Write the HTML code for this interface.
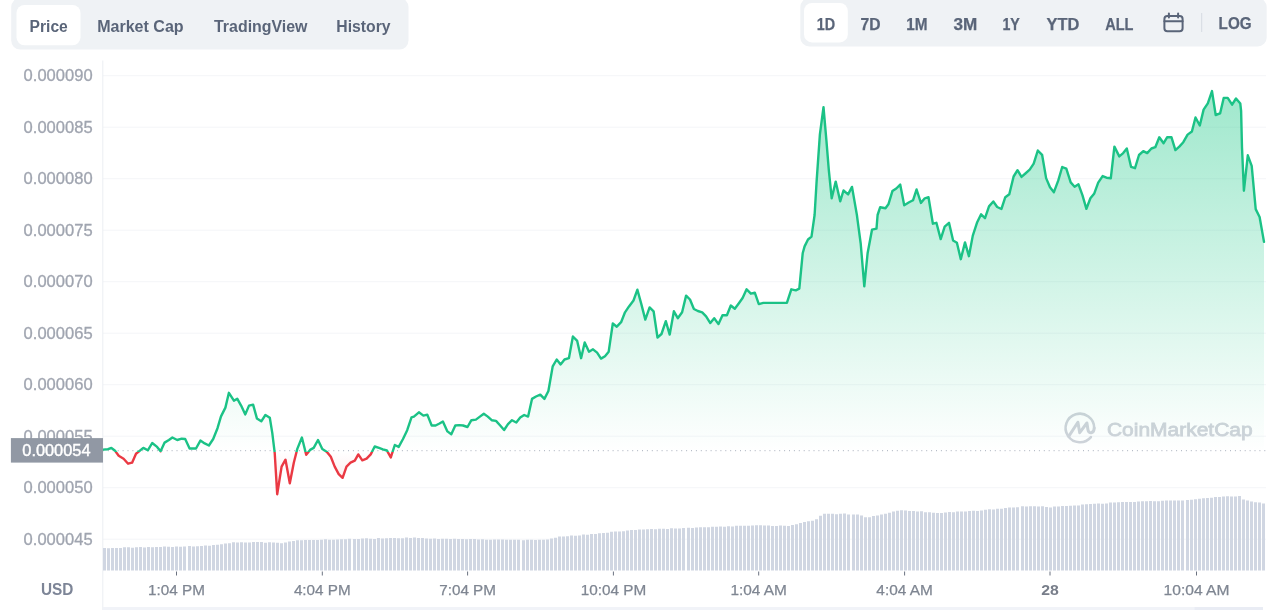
<!DOCTYPE html>
<html lang="en"><head><meta charset="utf-8"><title>Price chart</title>
<style>
html,body{margin:0;padding:0;background:#fff;}
body{width:1279px;height:610px;overflow:hidden;font-family:"Liberation Sans",sans-serif;}
svg{display:block}
text{font-family:"Liberation Sans",sans-serif;}
</style></head><body>
<svg width="1279" height="610" viewBox="0 0 1279 610">
<defs>
<linearGradient id="gfill" x1="0" y1="57" x2="0" y2="452.0" gradientUnits="userSpaceOnUse">
<stop offset="0" stop-color="#16c784" stop-opacity="0.45"/><stop offset="1" stop-color="#16c784" stop-opacity="0"/></linearGradient>
<linearGradient id="rfill" x1="0" y1="452.0" x2="0" y2="575" gradientUnits="userSpaceOnUse">
<stop offset="0" stop-color="#ea3943" stop-opacity="0"/><stop offset="1" stop-color="#ea3943" stop-opacity="0.4"/></linearGradient>
<clipPath id="cup"><rect x="0" y="0" width="1279" height="452.0"/></clipPath>
<clipPath id="cdn"><rect x="0" y="452.0" width="1279" height="200"/></clipPath>
</defs>
<rect width="1279" height="610" fill="#ffffff"/>

<!-- left tabs -->
<rect x="11.2" y="-2" width="397.3" height="51.6" rx="9" fill="#eff2f5"/>
<rect x="16.5" y="5" width="64" height="40.3" rx="8" fill="#ffffff"/>
<g font-size="16" font-weight="700" fill="#5a6579">
<text x="29.6" y="31.6" textLength="38.2" lengthAdjust="spacingAndGlyphs">Price</text>
<text x="97.2" y="31.6" textLength="86.4" lengthAdjust="spacingAndGlyphs">Market Cap</text>
<text x="214" y="31.6" textLength="93.5" lengthAdjust="spacingAndGlyphs">TradingView</text>
<text x="336.3" y="31.6" textLength="54.2" lengthAdjust="spacingAndGlyphs">History</text>
</g>

<!-- right range -->
<rect x="800.3" y="-2" width="466.4" height="48.4" rx="9" fill="#eff2f5"/>
<rect x="804" y="3" width="43.8" height="39.4" rx="8" fill="#ffffff"/>
<g font-size="16.3" font-weight="700" fill="#5a6579" stroke="#5a6579" stroke-width="0.25">
<text x="816.8" y="29.9" textLength="18.4" lengthAdjust="spacingAndGlyphs">1D</text>
<text x="860.6" y="29.9" textLength="20" lengthAdjust="spacingAndGlyphs">7D</text>
<text x="906.3" y="29.9" textLength="21.3" lengthAdjust="spacingAndGlyphs">1M</text>
<text x="953.4" y="29.9" textLength="23.8" lengthAdjust="spacingAndGlyphs">3M</text>
<text x="1002.4" y="29.9" textLength="17.4" lengthAdjust="spacingAndGlyphs">1Y</text>
<text x="1046.5" y="29.9" textLength="32.8" lengthAdjust="spacingAndGlyphs">YTD</text>
<text x="1105.2" y="29.9" textLength="28.3" lengthAdjust="spacingAndGlyphs">ALL</text>
<text x="1218.6" y="28.9" textLength="33" lengthAdjust="spacingAndGlyphs">LOG</text>
</g>
<g fill="none" stroke="#5a6579" stroke-width="2" stroke-linecap="round">
<rect x="1164.4" y="16" width="18.2" height="15.2" rx="3"/>
<line x1="1164.4" y1="21.3" x2="1182.6" y2="21.3"/>
<line x1="1168.9" y1="13.6" x2="1168.9" y2="17.5"/>
<line x1="1178.1" y1="13.6" x2="1178.1" y2="17.5"/>
</g>
<line x1="1201.7" x2="1201.7" y1="13" y2="32" stroke="#d6dae2" stroke-width="1"/>

<!-- grid -->
<g stroke="#f4f5f8" stroke-width="1"><line x1="103" x2="1266" y1="75.7" y2="75.7"/><line x1="103" x2="1266" y1="127.2" y2="127.2"/><line x1="103" x2="1266" y1="178.7" y2="178.7"/><line x1="103" x2="1266" y1="230.2" y2="230.2"/><line x1="103" x2="1266" y1="281.7" y2="281.7"/><line x1="103" x2="1266" y1="333.2" y2="333.2"/><line x1="103" x2="1266" y1="384.7" y2="384.7"/><line x1="103" x2="1266" y1="436.2" y2="436.2"/><line x1="103" x2="1266" y1="487.7" y2="487.7"/><line x1="103" x2="1266" y1="539.2" y2="539.2"/></g>
<line x1="102.8" x2="102.8" y1="60.5" y2="610" stroke="#eceef2" stroke-width="1"/>

<!-- watermark -->
<g fill="none" stroke="#cfd3da" stroke-width="2.6" stroke-linecap="round" stroke-linejoin="round">
<path d="M1090.9 437.1 A14.3 14.3 0 1 1 1094.2 427.9"/>
<path d="M1094.2 427.9 C1094.2 433.5 1088.5 434.5 1087.9 429.5 L1086.9 423 L1079.7 432.7 L1077.9 422.3 L1068.7 436.4" stroke-width="3"/>
</g>
<text x="1106.9" y="435.7" font-size="19" fill="#cfd3da" stroke="#cfd3da" stroke-width="0.8" textLength="145.8" lengthAdjust="spacingAndGlyphs">CoinMarketCap</text>

<!-- volume -->
<path d="M103 548.0h3V570.5h-3zM107 548.2h3V570.5h-3zM111 547.9h3V570.5h-3zM115 548.0h3V570.5h-3zM119 547.9h3V570.5h-3zM123 547.3h3V570.5h-3zM127 547.2h3V570.5h-3zM131 547.7h3V570.5h-3zM135 547.2h3V570.5h-3zM139 547.1h3V570.5h-3zM143 547.6h3V570.5h-3zM147 547.1h3V570.5h-3zM151 547.3h3V570.5h-3zM155 546.9h3V570.5h-3zM159 547.0h3V570.5h-3zM163 546.5h3V570.5h-3zM167 546.8h3V570.5h-3zM171 546.9h3V570.5h-3zM175 546.6h3V570.5h-3zM179 546.7h3V570.5h-3zM183 546.6h3V570.5h-3zM188 546.0h3V570.5h-3zM192 546.4h3V570.5h-3zM196 546.2h3V570.5h-3zM200 545.9h3V570.5h-3zM204 545.6h3V570.5h-3zM208 545.8h3V570.5h-3zM212 545.0h3V570.5h-3zM216 544.7h3V570.5h-3zM220 544.3h3V570.5h-3zM224 543.6h3V570.5h-3zM228 543.2h3V570.5h-3zM232 542.3h3V570.5h-3zM236 542.5h3V570.5h-3zM240 542.3h3V570.5h-3zM244 542.6h3V570.5h-3zM248 542.6h3V570.5h-3zM252 542.0h3V570.5h-3zM256 542.0h3V570.5h-3zM260 542.1h3V570.5h-3zM264 542.7h3V570.5h-3zM268 542.2h3V570.5h-3zM272 542.4h3V570.5h-3zM276 542.8h3V570.5h-3zM280 543.3h3V570.5h-3zM284 542.4h3V570.5h-3zM288 541.6h3V570.5h-3zM292 541.0h3V570.5h-3zM296 540.2h3V570.5h-3zM300 540.3h3V570.5h-3zM304 540.0h3V570.5h-3zM308 540.1h3V570.5h-3zM312 540.0h3V570.5h-3zM316 540.0h3V570.5h-3zM320 539.7h3V570.5h-3zM324 539.2h3V570.5h-3zM328 539.7h3V570.5h-3zM332 539.7h3V570.5h-3zM336 539.5h3V570.5h-3zM340 539.2h3V570.5h-3zM344 539.2h3V570.5h-3zM348 538.7h3V570.5h-3zM353 539.1h3V570.5h-3zM357 538.9h3V570.5h-3zM361 538.5h3V570.5h-3zM365 538.3h3V570.5h-3zM369 538.8h3V570.5h-3zM373 538.9h3V570.5h-3zM377 538.1h3V570.5h-3zM381 538.6h3V570.5h-3zM385 538.2h3V570.5h-3zM389 537.9h3V570.5h-3zM393 537.9h3V570.5h-3zM397 538.2h3V570.5h-3zM401 538.2h3V570.5h-3zM405 537.5h3V570.5h-3zM409 537.9h3V570.5h-3zM413 537.4h3V570.5h-3zM417 538.1h3V570.5h-3zM421 537.9h3V570.5h-3zM425 538.5h3V570.5h-3zM429 538.8h3V570.5h-3zM433 538.5h3V570.5h-3zM437 539.1h3V570.5h-3zM441 538.7h3V570.5h-3zM445 538.7h3V570.5h-3zM449 539.1h3V570.5h-3zM453 538.7h3V570.5h-3zM457 538.9h3V570.5h-3zM461 539.1h3V570.5h-3zM465 539.3h3V570.5h-3zM469 539.0h3V570.5h-3zM473 538.9h3V570.5h-3zM477 539.6h3V570.5h-3zM481 539.2h3V570.5h-3zM485 539.8h3V570.5h-3zM489 539.8h3V570.5h-3zM493 539.4h3V570.5h-3zM497 539.5h3V570.5h-3zM501 539.6h3V570.5h-3zM505 539.7h3V570.5h-3zM509 539.7h3V570.5h-3zM513 539.8h3V570.5h-3zM517 539.8h3V570.5h-3zM522 540.2h3V570.5h-3zM526 539.8h3V570.5h-3zM530 539.8h3V570.5h-3zM534 540.1h3V570.5h-3zM538 539.8h3V570.5h-3zM542 539.7h3V570.5h-3zM546 539.6h3V570.5h-3zM550 538.5h3V570.5h-3zM554 537.7h3V570.5h-3zM558 536.6h3V570.5h-3zM562 536.4h3V570.5h-3zM566 536.3h3V570.5h-3zM570 535.5h3V570.5h-3zM574 535.7h3V570.5h-3zM578 535.4h3V570.5h-3zM582 534.6h3V570.5h-3zM586 534.7h3V570.5h-3zM590 534.1h3V570.5h-3zM594 533.9h3V570.5h-3zM598 533.2h3V570.5h-3zM602 533.1h3V570.5h-3zM606 532.7h3V570.5h-3zM610 531.8h3V570.5h-3zM614 531.4h3V570.5h-3zM618 531.5h3V570.5h-3zM622 531.3h3V570.5h-3zM626 530.4h3V570.5h-3zM630 530.1h3V570.5h-3zM634 529.9h3V570.5h-3zM638 529.5h3V570.5h-3zM642 529.4h3V570.5h-3zM646 529.2h3V570.5h-3zM650 529.1h3V570.5h-3zM654 529.2h3V570.5h-3zM658 528.8h3V570.5h-3zM662 528.7h3V570.5h-3zM666 528.9h3V570.5h-3zM670 528.2h3V570.5h-3zM674 528.5h3V570.5h-3zM678 528.5h3V570.5h-3zM682 528.0h3V570.5h-3zM687 527.8h3V570.5h-3zM691 528.1h3V570.5h-3zM695 527.4h3V570.5h-3zM699 527.2h3V570.5h-3zM703 527.3h3V570.5h-3zM707 527.3h3V570.5h-3zM711 526.7h3V570.5h-3zM715 526.7h3V570.5h-3zM719 526.5h3V570.5h-3zM723 526.7h3V570.5h-3zM727 526.3h3V570.5h-3zM731 526.4h3V570.5h-3zM735 525.7h3V570.5h-3zM739 525.7h3V570.5h-3zM743 525.8h3V570.5h-3zM747 525.8h3V570.5h-3zM751 525.4h3V570.5h-3zM755 525.3h3V570.5h-3zM759 525.2h3V570.5h-3zM763 525.6h3V570.5h-3zM767 525.4h3V570.5h-3zM771 525.9h3V570.5h-3zM775 526.0h3V570.5h-3zM779 525.5h3V570.5h-3zM783 525.7h3V570.5h-3zM787 526.0h3V570.5h-3zM791 525.0h3V570.5h-3zM795 524.3h3V570.5h-3zM799 523.1h3V570.5h-3zM803 522.0h3V570.5h-3zM807 521.3h3V570.5h-3zM811 520.8h3V570.5h-3zM815 519.2h3V570.5h-3zM819 515.8h3V570.5h-3zM823 513.7h3V570.5h-3zM827 513.7h3V570.5h-3zM831 513.8h3V570.5h-3zM835 514.2h3V570.5h-3zM839 513.7h3V570.5h-3zM843 513.6h3V570.5h-3zM847 514.4h3V570.5h-3zM852 514.4h3V570.5h-3zM856 514.6h3V570.5h-3zM860 515.4h3V570.5h-3zM864 517.3h3V570.5h-3zM868 517.3h3V570.5h-3zM872 515.9h3V570.5h-3zM876 515.4h3V570.5h-3zM880 514.6h3V570.5h-3zM884 513.7h3V570.5h-3zM888 512.7h3V570.5h-3zM892 511.6h3V570.5h-3zM896 510.8h3V570.5h-3zM900 510.3h3V570.5h-3zM904 510.4h3V570.5h-3zM908 511.0h3V570.5h-3zM912 511.0h3V570.5h-3zM916 511.6h3V570.5h-3zM920 511.3h3V570.5h-3zM924 512.2h3V570.5h-3zM928 512.2h3V570.5h-3zM932 512.7h3V570.5h-3zM936 512.9h3V570.5h-3zM940 513.1h3V570.5h-3zM944 512.6h3V570.5h-3zM948 511.9h3V570.5h-3zM952 512.3h3V570.5h-3zM956 511.6h3V570.5h-3zM960 511.4h3V570.5h-3zM964 511.4h3V570.5h-3zM968 511.1h3V570.5h-3zM972 510.7h3V570.5h-3zM976 510.9h3V570.5h-3zM980 510.4h3V570.5h-3zM984 509.8h3V570.5h-3zM988 509.3h3V570.5h-3zM992 509.5h3V570.5h-3zM996 508.8h3V570.5h-3zM1000 508.7h3V570.5h-3zM1004 508.0h3V570.5h-3zM1008 507.5h3V570.5h-3zM1012 507.4h3V570.5h-3zM1016 507.3h3V570.5h-3zM1021 506.3h3V570.5h-3zM1025 506.4h3V570.5h-3zM1029 506.2h3V570.5h-3zM1033 506.3h3V570.5h-3zM1037 506.6h3V570.5h-3zM1041 506.3h3V570.5h-3zM1045 507.0h3V570.5h-3zM1049 507.5h3V570.5h-3zM1053 506.5h3V570.5h-3zM1057 506.4h3V570.5h-3zM1061 506.1h3V570.5h-3zM1065 506.0h3V570.5h-3zM1069 505.7h3V570.5h-3zM1073 505.4h3V570.5h-3zM1077 505.4h3V570.5h-3zM1081 504.5h3V570.5h-3zM1085 504.2h3V570.5h-3zM1089 504.0h3V570.5h-3zM1093 503.7h3V570.5h-3zM1097 503.4h3V570.5h-3zM1101 503.8h3V570.5h-3zM1105 503.4h3V570.5h-3zM1109 502.5h3V570.5h-3zM1113 502.6h3V570.5h-3zM1117 502.3h3V570.5h-3zM1121 502.1h3V570.5h-3zM1125 502.0h3V570.5h-3zM1129 502.1h3V570.5h-3zM1133 501.9h3V570.5h-3zM1137 501.6h3V570.5h-3zM1141 501.3h3V570.5h-3zM1145 501.3h3V570.5h-3zM1149 501.0h3V570.5h-3zM1153 501.2h3V570.5h-3zM1157 501.2h3V570.5h-3zM1161 500.8h3V570.5h-3zM1165 500.4h3V570.5h-3zM1169 500.4h3V570.5h-3zM1173 500.4h3V570.5h-3zM1177 500.4h3V570.5h-3zM1181 500.4h3V570.5h-3zM1186 499.9h3V570.5h-3zM1190 499.8h3V570.5h-3zM1194 499.2h3V570.5h-3zM1198 498.7h3V570.5h-3zM1202 498.2h3V570.5h-3zM1206 497.9h3V570.5h-3zM1210 497.7h3V570.5h-3zM1214 497.1h3V570.5h-3zM1218 496.9h3V570.5h-3zM1222 496.4h3V570.5h-3zM1226 496.2h3V570.5h-3zM1230 496.4h3V570.5h-3zM1234 496.6h3V570.5h-3zM1238 496.1h3V570.5h-3zM1242 499.6h3V570.5h-3zM1246 500.6h3V570.5h-3zM1250 501.6h3V570.5h-3zM1254 502.2h3V570.5h-3zM1258 502.4h3V570.5h-3zM1262 503.4h3V570.5h-3z" fill="#d0d6e2"/>

<!-- area -->
<path d="M103.0 449.6 L107.9 449.2 L111.4 448.0 L114.8 450.4 L118.7 455.8 L123.6 458.7 L128.1 463.7 L132.1 462.7 L136.0 453.8 L143.3 447.9 L147.8 450.3 L152.2 443.0 L157.1 446.9 L160.6 451.3 L164.6 442.6 L168.9 440.0 L172.4 437.5 L177.2 440.0 L181.7 438.7 L185.2 439.0 L189.6 448.5 L196.0 448.5 L200.4 440.6 L204.7 443.4 L208.9 445.5 L213.2 439.0 L217.5 428.2 L221.0 416.4 L225.4 407.6 L228.9 392.8 L233.9 400.7 L237.2 398.7 L241.1 405.6 L245.3 414.4 L249.0 405.6 L253.1 404.6 L256.9 418.4 L261.3 421.3 L265.4 415.0 L269.8 417.8 L272.3 433.1 L274.7 452.8 L277.2 494.2 L281.6 466.6 L285.5 459.7 L289.8 483.3 L293.8 462.7 L297.3 448.9 L301.9 437.5 L306.2 454.8 L310.1 449.9 L313.7 447.9 L318.0 440.0 L322.3 448.9 L326.9 451.9 L330.8 456.8 L334.7 466.6 L338.7 474.1 L342.6 477.8 L346.5 466.6 L350.5 462.7 L354.8 460.7 L358.3 454.4 L362.3 460.3 L366.6 458.7 L370.7 454.4 L374.7 446.5 L379.0 447.9 L382.9 449.3 L386.9 450.5 L390.8 457.4 L394.8 445.0 L398.7 446.9 L403.0 439.0 L407.2 430.2 L411.5 417.4 L413.9 416.6 L418.9 412.3 L423.4 415.6 L427.3 414.6 L431.7 425.5 L435.6 425.5 L439.5 423.5 L442.9 421.5 L447.4 431.4 L451.3 434.3 L455.3 425.5 L459.2 425.1 L463.1 425.5 L467.5 427.0 L471.4 420.2 L475.9 419.6 L479.9 416.6 L483.8 413.7 L487.8 416.6 L491.7 420.2 L496.0 420.9 L500.2 425.5 L504.1 430.0 L508.0 424.1 L512.0 420.2 L516.3 422.5 L520.2 417.6 L524.2 415.0 L528.1 416.6 L532.0 398.9 L536.0 396.5 L540.3 394.6 L544.4 398.9 L548.4 391.0 L552.7 366.4 L556.7 359.5 L560.6 364.4 L564.5 359.5 L568.9 358.2 L572.9 336.5 L577.2 340.9 L581.1 358.2 L584.7 342.4 L589.0 351.7 L593.0 349.3 L597.1 352.7 L601.0 358.6 L605.0 356.2 L608.7 351.7 L612.8 323.5 L616.8 326.7 L621.1 322.2 L625.0 312.3 L629.0 306.4 L633.5 300.5 L637.4 289.7 L641.4 304.4 L645.3 319.6 L649.6 307.4 L653.6 311.3 L657.5 337.5 L661.5 334.0 L665.8 321.2 L669.7 334.6 L673.9 311.3 L677.8 318.2 L682.1 312.3 L686.1 295.6 L690.0 299.5 L693.9 309.0 L697.9 311.0 L702.2 312.3 L706.1 316.3 L710.3 323.1 L714.2 318.2 L718.5 324.1 L722.5 315.3 L726.9 315.3 L730.8 305.5 L734.8 308.8 L738.7 303.5 L742.6 298.0 L746.6 289.3 L750.9 293.7 L754.8 292.7 L758.8 304.1 L763.3 302.9 L786.9 302.9 L791.3 289.3 L795.8 290.3 L799.3 288.7 L802.7 253.3 L804.6 246.4 L808.0 239.5 L811.5 236.6 L814.6 215.0 L816.6 181.6 L819.9 134.4 L823.5 107.2 L826.4 140.3 L828.8 169.8 L831.7 198.3 L835.7 181.6 L840.2 201.3 L843.5 190.5 L848.1 194.4 L852.0 186.9 L856.9 215.0 L857.8 221.8 L860.7 243.5 L864.3 286.4 L867.6 253.3 L872.0 229.7 L876.5 228.7 L877.6 215.0 L880.2 207.2 L885.5 208.2 L888.4 204.3 L892.4 191.1 L896.3 188.5 L900.2 184.6 L904.2 205.2 L909.1 202.3 L913.0 200.3 L916.6 189.5 L920.9 202.9 L924.8 198.3 L928.5 197.2 L932.9 223.7 L936.4 222.8 L940.7 239.1 L944.7 226.7 L949.0 222.8 L953.1 240.5 L956.9 242.8 L960.8 259.2 L965.0 242.4 L968.9 256.2 L972.8 235.6 L977.2 222.2 L981.1 214.3 L985.0 218.2 L989.0 206.4 L993.3 201.5 L997.2 207.0 L1001.4 209.0 L1005.3 197.2 L1009.3 194.2 L1013.6 176.5 L1017.5 170.2 L1021.5 176.9 L1025.4 173.5 L1029.7 169.6 L1033.7 163.7 L1037.8 150.5 L1042.1 154.8 L1046.1 178.1 L1050.0 187.3 L1053.9 192.2 L1058.3 180.4 L1062.2 167.0 L1066.3 168.6 L1070.7 182.4 L1074.6 186.7 L1078.5 184.3 L1082.5 195.4 L1086.4 208.8 L1090.4 198.3 L1094.3 193.4 L1098.2 182.6 L1102.6 176.1 L1106.5 177.7 L1110.8 178.3 L1114.4 146.6 L1119.3 156.4 L1123.2 153.1 L1126.8 148.5 L1131.1 166.9 L1135.0 168.2 L1139.0 155.0 L1143.3 151.1 L1147.2 153.1 L1151.4 148.5 L1155.3 147.2 L1159.3 137.3 L1163.6 143.2 L1167.1 137.3 L1171.5 137.3 L1175.4 150.1 L1179.3 146.6 L1183.3 142.2 L1187.6 134.6 L1191.9 131.5 L1195.5 117.5 L1199.8 125.5 L1203.6 109.6 L1207.8 103.3 L1212.0 91.1 L1215.7 115.0 L1220.1 113.4 L1223.7 97.9 L1227.7 97.9 L1232.1 104.7 L1236.0 98.5 L1240.3 103.6 L1241.1 110.8 L1242.0 147.5 L1243.9 190.7 L1247.8 155.3 L1251.7 165.8 L1255.7 209.1 L1259.6 217.0 L1264.0 241.9 L1264.0 452.0 L103.0 452.0 Z" fill="url(#gfill)" clip-path="url(#cup)"/>
<path d="M103.0 449.6 L107.9 449.2 L111.4 448.0 L114.8 450.4 L118.7 455.8 L123.6 458.7 L128.1 463.7 L132.1 462.7 L136.0 453.8 L143.3 447.9 L147.8 450.3 L152.2 443.0 L157.1 446.9 L160.6 451.3 L164.6 442.6 L168.9 440.0 L172.4 437.5 L177.2 440.0 L181.7 438.7 L185.2 439.0 L189.6 448.5 L196.0 448.5 L200.4 440.6 L204.7 443.4 L208.9 445.5 L213.2 439.0 L217.5 428.2 L221.0 416.4 L225.4 407.6 L228.9 392.8 L233.9 400.7 L237.2 398.7 L241.1 405.6 L245.3 414.4 L249.0 405.6 L253.1 404.6 L256.9 418.4 L261.3 421.3 L265.4 415.0 L269.8 417.8 L272.3 433.1 L274.7 452.8 L277.2 494.2 L281.6 466.6 L285.5 459.7 L289.8 483.3 L293.8 462.7 L297.3 448.9 L301.9 437.5 L306.2 454.8 L310.1 449.9 L313.7 447.9 L318.0 440.0 L322.3 448.9 L326.9 451.9 L330.8 456.8 L334.7 466.6 L338.7 474.1 L342.6 477.8 L346.5 466.6 L350.5 462.7 L354.8 460.7 L358.3 454.4 L362.3 460.3 L366.6 458.7 L370.7 454.4 L374.7 446.5 L379.0 447.9 L382.9 449.3 L386.9 450.5 L390.8 457.4 L394.8 445.0 L398.7 446.9 L403.0 439.0 L407.2 430.2 L411.5 417.4 L413.9 416.6 L418.9 412.3 L423.4 415.6 L427.3 414.6 L431.7 425.5 L435.6 425.5 L439.5 423.5 L442.9 421.5 L447.4 431.4 L451.3 434.3 L455.3 425.5 L459.2 425.1 L463.1 425.5 L467.5 427.0 L471.4 420.2 L475.9 419.6 L479.9 416.6 L483.8 413.7 L487.8 416.6 L491.7 420.2 L496.0 420.9 L500.2 425.5 L504.1 430.0 L508.0 424.1 L512.0 420.2 L516.3 422.5 L520.2 417.6 L524.2 415.0 L528.1 416.6 L532.0 398.9 L536.0 396.5 L540.3 394.6 L544.4 398.9 L548.4 391.0 L552.7 366.4 L556.7 359.5 L560.6 364.4 L564.5 359.5 L568.9 358.2 L572.9 336.5 L577.2 340.9 L581.1 358.2 L584.7 342.4 L589.0 351.7 L593.0 349.3 L597.1 352.7 L601.0 358.6 L605.0 356.2 L608.7 351.7 L612.8 323.5 L616.8 326.7 L621.1 322.2 L625.0 312.3 L629.0 306.4 L633.5 300.5 L637.4 289.7 L641.4 304.4 L645.3 319.6 L649.6 307.4 L653.6 311.3 L657.5 337.5 L661.5 334.0 L665.8 321.2 L669.7 334.6 L673.9 311.3 L677.8 318.2 L682.1 312.3 L686.1 295.6 L690.0 299.5 L693.9 309.0 L697.9 311.0 L702.2 312.3 L706.1 316.3 L710.3 323.1 L714.2 318.2 L718.5 324.1 L722.5 315.3 L726.9 315.3 L730.8 305.5 L734.8 308.8 L738.7 303.5 L742.6 298.0 L746.6 289.3 L750.9 293.7 L754.8 292.7 L758.8 304.1 L763.3 302.9 L786.9 302.9 L791.3 289.3 L795.8 290.3 L799.3 288.7 L802.7 253.3 L804.6 246.4 L808.0 239.5 L811.5 236.6 L814.6 215.0 L816.6 181.6 L819.9 134.4 L823.5 107.2 L826.4 140.3 L828.8 169.8 L831.7 198.3 L835.7 181.6 L840.2 201.3 L843.5 190.5 L848.1 194.4 L852.0 186.9 L856.9 215.0 L857.8 221.8 L860.7 243.5 L864.3 286.4 L867.6 253.3 L872.0 229.7 L876.5 228.7 L877.6 215.0 L880.2 207.2 L885.5 208.2 L888.4 204.3 L892.4 191.1 L896.3 188.5 L900.2 184.6 L904.2 205.2 L909.1 202.3 L913.0 200.3 L916.6 189.5 L920.9 202.9 L924.8 198.3 L928.5 197.2 L932.9 223.7 L936.4 222.8 L940.7 239.1 L944.7 226.7 L949.0 222.8 L953.1 240.5 L956.9 242.8 L960.8 259.2 L965.0 242.4 L968.9 256.2 L972.8 235.6 L977.2 222.2 L981.1 214.3 L985.0 218.2 L989.0 206.4 L993.3 201.5 L997.2 207.0 L1001.4 209.0 L1005.3 197.2 L1009.3 194.2 L1013.6 176.5 L1017.5 170.2 L1021.5 176.9 L1025.4 173.5 L1029.7 169.6 L1033.7 163.7 L1037.8 150.5 L1042.1 154.8 L1046.1 178.1 L1050.0 187.3 L1053.9 192.2 L1058.3 180.4 L1062.2 167.0 L1066.3 168.6 L1070.7 182.4 L1074.6 186.7 L1078.5 184.3 L1082.5 195.4 L1086.4 208.8 L1090.4 198.3 L1094.3 193.4 L1098.2 182.6 L1102.6 176.1 L1106.5 177.7 L1110.8 178.3 L1114.4 146.6 L1119.3 156.4 L1123.2 153.1 L1126.8 148.5 L1131.1 166.9 L1135.0 168.2 L1139.0 155.0 L1143.3 151.1 L1147.2 153.1 L1151.4 148.5 L1155.3 147.2 L1159.3 137.3 L1163.6 143.2 L1167.1 137.3 L1171.5 137.3 L1175.4 150.1 L1179.3 146.6 L1183.3 142.2 L1187.6 134.6 L1191.9 131.5 L1195.5 117.5 L1199.8 125.5 L1203.6 109.6 L1207.8 103.3 L1212.0 91.1 L1215.7 115.0 L1220.1 113.4 L1223.7 97.9 L1227.7 97.9 L1232.1 104.7 L1236.0 98.5 L1240.3 103.6 L1241.1 110.8 L1242.0 147.5 L1243.9 190.7 L1247.8 155.3 L1251.7 165.8 L1255.7 209.1 L1259.6 217.0 L1264.0 241.9 L1264.0 452.0 L103.0 452.0 Z" fill="url(#rfill)" clip-path="url(#cdn)"/>
<line x1="103" x2="1267" y1="450.7" y2="450.7" stroke="#a6adba" stroke-width="1" stroke-dasharray="1 3.9"/>
<path d="M103.0 449.6 L107.9 449.2 L111.4 448.0 L114.8 450.4 L118.7 455.8 L123.6 458.7 L128.1 463.7 L132.1 462.7 L136.0 453.8 L143.3 447.9 L147.8 450.3 L152.2 443.0 L157.1 446.9 L160.6 451.3 L164.6 442.6 L168.9 440.0 L172.4 437.5 L177.2 440.0 L181.7 438.7 L185.2 439.0 L189.6 448.5 L196.0 448.5 L200.4 440.6 L204.7 443.4 L208.9 445.5 L213.2 439.0 L217.5 428.2 L221.0 416.4 L225.4 407.6 L228.9 392.8 L233.9 400.7 L237.2 398.7 L241.1 405.6 L245.3 414.4 L249.0 405.6 L253.1 404.6 L256.9 418.4 L261.3 421.3 L265.4 415.0 L269.8 417.8 L272.3 433.1 L274.7 452.8 L277.2 494.2 L281.6 466.6 L285.5 459.7 L289.8 483.3 L293.8 462.7 L297.3 448.9 L301.9 437.5 L306.2 454.8 L310.1 449.9 L313.7 447.9 L318.0 440.0 L322.3 448.9 L326.9 451.9 L330.8 456.8 L334.7 466.6 L338.7 474.1 L342.6 477.8 L346.5 466.6 L350.5 462.7 L354.8 460.7 L358.3 454.4 L362.3 460.3 L366.6 458.7 L370.7 454.4 L374.7 446.5 L379.0 447.9 L382.9 449.3 L386.9 450.5 L390.8 457.4 L394.8 445.0 L398.7 446.9 L403.0 439.0 L407.2 430.2 L411.5 417.4 L413.9 416.6 L418.9 412.3 L423.4 415.6 L427.3 414.6 L431.7 425.5 L435.6 425.5 L439.5 423.5 L442.9 421.5 L447.4 431.4 L451.3 434.3 L455.3 425.5 L459.2 425.1 L463.1 425.5 L467.5 427.0 L471.4 420.2 L475.9 419.6 L479.9 416.6 L483.8 413.7 L487.8 416.6 L491.7 420.2 L496.0 420.9 L500.2 425.5 L504.1 430.0 L508.0 424.1 L512.0 420.2 L516.3 422.5 L520.2 417.6 L524.2 415.0 L528.1 416.6 L532.0 398.9 L536.0 396.5 L540.3 394.6 L544.4 398.9 L548.4 391.0 L552.7 366.4 L556.7 359.5 L560.6 364.4 L564.5 359.5 L568.9 358.2 L572.9 336.5 L577.2 340.9 L581.1 358.2 L584.7 342.4 L589.0 351.7 L593.0 349.3 L597.1 352.7 L601.0 358.6 L605.0 356.2 L608.7 351.7 L612.8 323.5 L616.8 326.7 L621.1 322.2 L625.0 312.3 L629.0 306.4 L633.5 300.5 L637.4 289.7 L641.4 304.4 L645.3 319.6 L649.6 307.4 L653.6 311.3 L657.5 337.5 L661.5 334.0 L665.8 321.2 L669.7 334.6 L673.9 311.3 L677.8 318.2 L682.1 312.3 L686.1 295.6 L690.0 299.5 L693.9 309.0 L697.9 311.0 L702.2 312.3 L706.1 316.3 L710.3 323.1 L714.2 318.2 L718.5 324.1 L722.5 315.3 L726.9 315.3 L730.8 305.5 L734.8 308.8 L738.7 303.5 L742.6 298.0 L746.6 289.3 L750.9 293.7 L754.8 292.7 L758.8 304.1 L763.3 302.9 L786.9 302.9 L791.3 289.3 L795.8 290.3 L799.3 288.7 L802.7 253.3 L804.6 246.4 L808.0 239.5 L811.5 236.6 L814.6 215.0 L816.6 181.6 L819.9 134.4 L823.5 107.2 L826.4 140.3 L828.8 169.8 L831.7 198.3 L835.7 181.6 L840.2 201.3 L843.5 190.5 L848.1 194.4 L852.0 186.9 L856.9 215.0 L857.8 221.8 L860.7 243.5 L864.3 286.4 L867.6 253.3 L872.0 229.7 L876.5 228.7 L877.6 215.0 L880.2 207.2 L885.5 208.2 L888.4 204.3 L892.4 191.1 L896.3 188.5 L900.2 184.6 L904.2 205.2 L909.1 202.3 L913.0 200.3 L916.6 189.5 L920.9 202.9 L924.8 198.3 L928.5 197.2 L932.9 223.7 L936.4 222.8 L940.7 239.1 L944.7 226.7 L949.0 222.8 L953.1 240.5 L956.9 242.8 L960.8 259.2 L965.0 242.4 L968.9 256.2 L972.8 235.6 L977.2 222.2 L981.1 214.3 L985.0 218.2 L989.0 206.4 L993.3 201.5 L997.2 207.0 L1001.4 209.0 L1005.3 197.2 L1009.3 194.2 L1013.6 176.5 L1017.5 170.2 L1021.5 176.9 L1025.4 173.5 L1029.7 169.6 L1033.7 163.7 L1037.8 150.5 L1042.1 154.8 L1046.1 178.1 L1050.0 187.3 L1053.9 192.2 L1058.3 180.4 L1062.2 167.0 L1066.3 168.6 L1070.7 182.4 L1074.6 186.7 L1078.5 184.3 L1082.5 195.4 L1086.4 208.8 L1090.4 198.3 L1094.3 193.4 L1098.2 182.6 L1102.6 176.1 L1106.5 177.7 L1110.8 178.3 L1114.4 146.6 L1119.3 156.4 L1123.2 153.1 L1126.8 148.5 L1131.1 166.9 L1135.0 168.2 L1139.0 155.0 L1143.3 151.1 L1147.2 153.1 L1151.4 148.5 L1155.3 147.2 L1159.3 137.3 L1163.6 143.2 L1167.1 137.3 L1171.5 137.3 L1175.4 150.1 L1179.3 146.6 L1183.3 142.2 L1187.6 134.6 L1191.9 131.5 L1195.5 117.5 L1199.8 125.5 L1203.6 109.6 L1207.8 103.3 L1212.0 91.1 L1215.7 115.0 L1220.1 113.4 L1223.7 97.9 L1227.7 97.9 L1232.1 104.7 L1236.0 98.5 L1240.3 103.6 L1241.1 110.8 L1242.0 147.5 L1243.9 190.7 L1247.8 155.3 L1251.7 165.8 L1255.7 209.1 L1259.6 217.0 L1264.0 241.9" fill="none" stroke="#1bc286" stroke-width="2.4" stroke-linejoin="round" stroke-linecap="round" clip-path="url(#cup)"/>
<path d="M103.0 449.6 L107.9 449.2 L111.4 448.0 L114.8 450.4 L118.7 455.8 L123.6 458.7 L128.1 463.7 L132.1 462.7 L136.0 453.8 L143.3 447.9 L147.8 450.3 L152.2 443.0 L157.1 446.9 L160.6 451.3 L164.6 442.6 L168.9 440.0 L172.4 437.5 L177.2 440.0 L181.7 438.7 L185.2 439.0 L189.6 448.5 L196.0 448.5 L200.4 440.6 L204.7 443.4 L208.9 445.5 L213.2 439.0 L217.5 428.2 L221.0 416.4 L225.4 407.6 L228.9 392.8 L233.9 400.7 L237.2 398.7 L241.1 405.6 L245.3 414.4 L249.0 405.6 L253.1 404.6 L256.9 418.4 L261.3 421.3 L265.4 415.0 L269.8 417.8 L272.3 433.1 L274.7 452.8 L277.2 494.2 L281.6 466.6 L285.5 459.7 L289.8 483.3 L293.8 462.7 L297.3 448.9 L301.9 437.5 L306.2 454.8 L310.1 449.9 L313.7 447.9 L318.0 440.0 L322.3 448.9 L326.9 451.9 L330.8 456.8 L334.7 466.6 L338.7 474.1 L342.6 477.8 L346.5 466.6 L350.5 462.7 L354.8 460.7 L358.3 454.4 L362.3 460.3 L366.6 458.7 L370.7 454.4 L374.7 446.5 L379.0 447.9 L382.9 449.3 L386.9 450.5 L390.8 457.4 L394.8 445.0 L398.7 446.9 L403.0 439.0 L407.2 430.2 L411.5 417.4 L413.9 416.6 L418.9 412.3 L423.4 415.6 L427.3 414.6 L431.7 425.5 L435.6 425.5 L439.5 423.5 L442.9 421.5 L447.4 431.4 L451.3 434.3 L455.3 425.5 L459.2 425.1 L463.1 425.5 L467.5 427.0 L471.4 420.2 L475.9 419.6 L479.9 416.6 L483.8 413.7 L487.8 416.6 L491.7 420.2 L496.0 420.9 L500.2 425.5 L504.1 430.0 L508.0 424.1 L512.0 420.2 L516.3 422.5 L520.2 417.6 L524.2 415.0 L528.1 416.6 L532.0 398.9 L536.0 396.5 L540.3 394.6 L544.4 398.9 L548.4 391.0 L552.7 366.4 L556.7 359.5 L560.6 364.4 L564.5 359.5 L568.9 358.2 L572.9 336.5 L577.2 340.9 L581.1 358.2 L584.7 342.4 L589.0 351.7 L593.0 349.3 L597.1 352.7 L601.0 358.6 L605.0 356.2 L608.7 351.7 L612.8 323.5 L616.8 326.7 L621.1 322.2 L625.0 312.3 L629.0 306.4 L633.5 300.5 L637.4 289.7 L641.4 304.4 L645.3 319.6 L649.6 307.4 L653.6 311.3 L657.5 337.5 L661.5 334.0 L665.8 321.2 L669.7 334.6 L673.9 311.3 L677.8 318.2 L682.1 312.3 L686.1 295.6 L690.0 299.5 L693.9 309.0 L697.9 311.0 L702.2 312.3 L706.1 316.3 L710.3 323.1 L714.2 318.2 L718.5 324.1 L722.5 315.3 L726.9 315.3 L730.8 305.5 L734.8 308.8 L738.7 303.5 L742.6 298.0 L746.6 289.3 L750.9 293.7 L754.8 292.7 L758.8 304.1 L763.3 302.9 L786.9 302.9 L791.3 289.3 L795.8 290.3 L799.3 288.7 L802.7 253.3 L804.6 246.4 L808.0 239.5 L811.5 236.6 L814.6 215.0 L816.6 181.6 L819.9 134.4 L823.5 107.2 L826.4 140.3 L828.8 169.8 L831.7 198.3 L835.7 181.6 L840.2 201.3 L843.5 190.5 L848.1 194.4 L852.0 186.9 L856.9 215.0 L857.8 221.8 L860.7 243.5 L864.3 286.4 L867.6 253.3 L872.0 229.7 L876.5 228.7 L877.6 215.0 L880.2 207.2 L885.5 208.2 L888.4 204.3 L892.4 191.1 L896.3 188.5 L900.2 184.6 L904.2 205.2 L909.1 202.3 L913.0 200.3 L916.6 189.5 L920.9 202.9 L924.8 198.3 L928.5 197.2 L932.9 223.7 L936.4 222.8 L940.7 239.1 L944.7 226.7 L949.0 222.8 L953.1 240.5 L956.9 242.8 L960.8 259.2 L965.0 242.4 L968.9 256.2 L972.8 235.6 L977.2 222.2 L981.1 214.3 L985.0 218.2 L989.0 206.4 L993.3 201.5 L997.2 207.0 L1001.4 209.0 L1005.3 197.2 L1009.3 194.2 L1013.6 176.5 L1017.5 170.2 L1021.5 176.9 L1025.4 173.5 L1029.7 169.6 L1033.7 163.7 L1037.8 150.5 L1042.1 154.8 L1046.1 178.1 L1050.0 187.3 L1053.9 192.2 L1058.3 180.4 L1062.2 167.0 L1066.3 168.6 L1070.7 182.4 L1074.6 186.7 L1078.5 184.3 L1082.5 195.4 L1086.4 208.8 L1090.4 198.3 L1094.3 193.4 L1098.2 182.6 L1102.6 176.1 L1106.5 177.7 L1110.8 178.3 L1114.4 146.6 L1119.3 156.4 L1123.2 153.1 L1126.8 148.5 L1131.1 166.9 L1135.0 168.2 L1139.0 155.0 L1143.3 151.1 L1147.2 153.1 L1151.4 148.5 L1155.3 147.2 L1159.3 137.3 L1163.6 143.2 L1167.1 137.3 L1171.5 137.3 L1175.4 150.1 L1179.3 146.6 L1183.3 142.2 L1187.6 134.6 L1191.9 131.5 L1195.5 117.5 L1199.8 125.5 L1203.6 109.6 L1207.8 103.3 L1212.0 91.1 L1215.7 115.0 L1220.1 113.4 L1223.7 97.9 L1227.7 97.9 L1232.1 104.7 L1236.0 98.5 L1240.3 103.6 L1241.1 110.8 L1242.0 147.5 L1243.9 190.7 L1247.8 155.3 L1251.7 165.8 L1255.7 209.1 L1259.6 217.0 L1264.0 241.9" fill="none" stroke="#ea3943" stroke-width="2.4" stroke-linejoin="round" stroke-linecap="round" clip-path="url(#cdn)"/>

<!-- y labels -->
<g font-size="15.8" fill="#a0a5b0" stroke="#a0a5b0" stroke-width="0.3"><text x="92.6" y="81.3" text-anchor="end" textLength="69" lengthAdjust="spacingAndGlyphs">0.000090</text><text x="92.6" y="132.8" text-anchor="end" textLength="69" lengthAdjust="spacingAndGlyphs">0.000085</text><text x="92.6" y="184.3" text-anchor="end" textLength="69" lengthAdjust="spacingAndGlyphs">0.000080</text><text x="92.6" y="235.8" text-anchor="end" textLength="69" lengthAdjust="spacingAndGlyphs">0.000075</text><text x="92.6" y="287.3" text-anchor="end" textLength="69" lengthAdjust="spacingAndGlyphs">0.000070</text><text x="92.6" y="338.8" text-anchor="end" textLength="69" lengthAdjust="spacingAndGlyphs">0.000065</text><text x="92.6" y="390.3" text-anchor="end" textLength="69" lengthAdjust="spacingAndGlyphs">0.000060</text><text x="92.6" y="441.8" text-anchor="end" textLength="69" lengthAdjust="spacingAndGlyphs">0.000055</text><text x="92.6" y="493.3" text-anchor="end" textLength="69" lengthAdjust="spacingAndGlyphs">0.000050</text><text x="92.6" y="544.8" text-anchor="end" textLength="69" lengthAdjust="spacingAndGlyphs">0.000045</text></g>
<rect x="10.9" y="438.1" width="92.1" height="24.5" fill="#9198a4"/>
<text x="22.3" y="456" font-size="15.8" fill="#ffffff" stroke="#ffffff" stroke-width="0.4" textLength="68.2" lengthAdjust="spacingAndGlyphs">0.000054</text>

<!-- x labels -->
<g font-size="14.9" fill="#7f8692" stroke="#7f8692" stroke-width="0.25"><line x1="176.5" x2="176.5" y1="571.5" y2="575.5" stroke="#6b7280" stroke-width="1"/><text x="176.5" y="594.6" text-anchor="middle" textLength="56.8" lengthAdjust="spacingAndGlyphs">1:04 PM</text><line x1="322.3" x2="322.3" y1="571.5" y2="575.5" stroke="#6b7280" stroke-width="1"/><text x="322.3" y="594.6" text-anchor="middle" textLength="56.8" lengthAdjust="spacingAndGlyphs">4:04 PM</text><line x1="467.6" x2="467.6" y1="571.5" y2="575.5" stroke="#6b7280" stroke-width="1"/><text x="467.6" y="594.6" text-anchor="middle" textLength="56.8" lengthAdjust="spacingAndGlyphs">7:04 PM</text><line x1="613.4" x2="613.4" y1="571.5" y2="575.5" stroke="#6b7280" stroke-width="1"/><text x="613.4" y="594.6" text-anchor="middle" textLength="65.5" lengthAdjust="spacingAndGlyphs">10:04 PM</text><line x1="758.7" x2="758.7" y1="571.5" y2="575.5" stroke="#6b7280" stroke-width="1"/><text x="758.7" y="594.6" text-anchor="middle" textLength="56.5" lengthAdjust="spacingAndGlyphs">1:04 AM</text><line x1="904.6" x2="904.6" y1="571.5" y2="575.5" stroke="#6b7280" stroke-width="1"/><text x="904.6" y="594.6" text-anchor="middle" textLength="56.5" lengthAdjust="spacingAndGlyphs">4:04 AM</text><line x1="1050" x2="1050" y1="571.5" y2="575.5" stroke="#6b7280" stroke-width="1"/><text x="1050" y="594.6" text-anchor="middle" font-weight="700" fill="#787e8a" stroke="none" textLength="17.6" lengthAdjust="spacingAndGlyphs">28</text><line x1="1196.5" x2="1196.5" y1="571.5" y2="575.5" stroke="#6b7280" stroke-width="1"/><text x="1196.5" y="594.6" text-anchor="middle" textLength="65.9" lengthAdjust="spacingAndGlyphs">10:04 AM</text></g>
<text x="57.1" y="595.2" text-anchor="middle" font-size="15.6" font-weight="700" fill="#7d8597" textLength="32.4" lengthAdjust="spacingAndGlyphs">USD</text>

<!-- bottom strip -->
<rect x="103" y="607" width="1160" height="3" fill="#f1f3f8"/>
<rect x="1194.6" y="607" width="68.4" height="3" fill="#e9ecf4"/>
</svg>
</body></html>
